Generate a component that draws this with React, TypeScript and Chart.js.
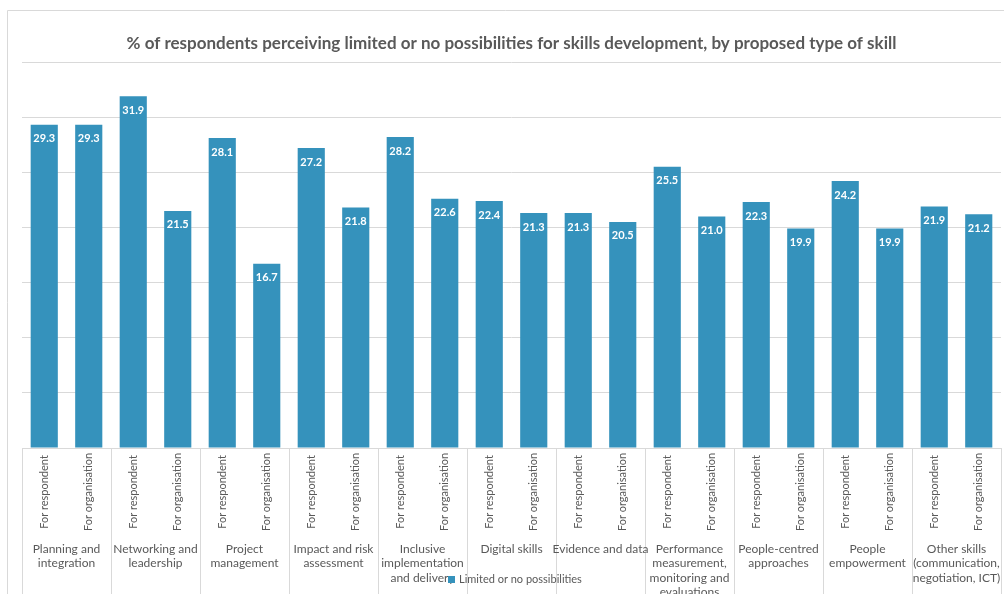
import React, { useEffect, useRef } from "react";
import { Chart, registerables } from "chart.js";

Chart.register(...registerables);

const titleText =
  "% of respondents perceiving limited or no possibilities for skills development, by proposed type of skill";

const groupLabels: string[][] = [
  ["Planning and", "integration"],
  ["Networking and", "leadership"],
  ["Project", "management"],
  ["Impact and risk", "assessment"],
  ["Inclusive", "implementation", "and delivery"],
  ["Digital skills"],
  ["Evidence and data"],
  ["Performance", "measurement,", "monitoring and", "evaluations"],
  ["People-centred", "approaches"],
  ["People", "empowerment"],
  ["Other skills", "(communication,", "negotiation, ICT)"],
];

const subLabels = ["For respondent", "For organisation"];

const values = [
  29.3, 29.3, 31.9, 21.5, 28.1, 16.7, 27.2, 21.8, 28.2, 22.6, 22.4, 21.3, 21.3,
  20.5, 25.5, 21.0, 22.3, 19.9, 24.2, 19.9, 21.9, 21.2,
];

const seriesName = "Limited or no possibilities";

const BAR = "#3592bc";
const GRID = "#d9d9d9";
const TEXT = "#595959";
const FONT = "Lato, 'Open Sans', sans-serif";

const categories: string[] = [];
groupLabels.forEach((g) => {
  subLabels.forEach((s) => categories.push(g.join(" ") + " - " + s));
});

const decorPlugin = {
  id: "decor",
  afterDatasetsDraw(chart: any) {
    const { ctx } = chart;
    const meta = chart.getDatasetMeta(0);
    ctx.save();
    ctx.fillStyle = "#ffffff";
    ctx.font = `bold 11px ${FONT}`;
    ctx.textAlign = "center";
    ctx.textBaseline = "middle";
    meta.data.forEach((bar: any, i: number) => {
      ctx.fillText(values[i].toFixed(1), bar.x, bar.y + 14);
    });
    ctx.restore();
  },
  afterDraw(chart: any) {
    const { ctx, chartArea } = chart;
    const x = chart.scales.x;
    const H = chart.height;
    const W = chart.width;
    ctx.save();
    // outer frame
    ctx.strokeStyle = GRID;
    ctx.lineWidth = 1;
    ctx.beginPath();
    ctx.moveTo(7.5, H);
    ctx.lineTo(7.5, 10.5);
    ctx.lineTo(W, 10.5);
    ctx.stroke();

    // group separators
    const bottom = chartArea.bottom;
    const bounds: number[] = [];
    for (let g = 0; g <= groupLabels.length; g++) {
      let bx: number;
      if (g === 0) bx = chartArea.left;
      else if (g === groupLabels.length) bx = chartArea.right;
      else bx = (x.getPixelForValue(2 * g - 1) + x.getPixelForValue(2 * g)) / 2;
      bounds.push(bx);
      ctx.beginPath();
      ctx.moveTo(Math.round(bx) + 0.5, bottom);
      ctx.lineTo(Math.round(bx) + 0.5, H);
      ctx.stroke();
    }

    // rotated sub labels
    ctx.fillStyle = TEXT;
    ctx.font = `11px ${FONT}`;
    ctx.textAlign = "center";
    ctx.textBaseline = "middle";
    categories.forEach((_, i) => {
      const px = x.getPixelForValue(i);
      ctx.save();
      ctx.translate(px, 492);
      ctx.rotate(-Math.PI / 2);
      ctx.fillText(subLabels[i % 2], 0, 0);
      ctx.restore();
    });

    // group labels
    ctx.font = `12px ${FONT}`;
    groupLabels.forEach((lines, g) => {
      const cx = (bounds[g] + bounds[g + 1]) / 2;
      lines.forEach((ln, k) => {
        ctx.fillText(ln, cx, 549 + k * 14.5);
      });
    });

    // legend
    ctx.font = `11px ${FONT}`;
    ctx.textAlign = "left";
    ctx.fillText(seriesName, 459, 579);
    ctx.fillStyle = BAR;
    ctx.fillRect(448, 576, 7, 7);
    ctx.restore();
  },
};

export default function App() {
  const ref = useRef<HTMLCanvasElement>(null);
  useEffect(() => {
    if (!ref.current) return;
    const chart = new Chart(ref.current, {
      type: "bar",
      data: {
        labels: categories,
        datasets: [
          {
            label: seriesName,
            data: values,
            backgroundColor: BAR,
            barPercentage: 1,
            categoryPercentage: 0.61,
          },
        ],
      },
      options: {
        responsive: false,
        animation: false,
        devicePixelRatio: 1,
        layout: { padding: { left: 22, right: 3, top: 10, bottom: 146 } },
        plugins: {
          legend: { display: false },
          tooltip: { enabled: false },
          title: {
            display: true,
            text: titleText,
            color: TEXT,
            font: { family: FONT, size: 17, weight: "bold", lineHeight: 1.2 },
            padding: { top: 23.8, bottom: 7.8 },
          },
        },
        scales: {
          x: {
            display: true,
            ticks: { display: false },
            grid: { display: false, drawTicks: false },
            border: { display: true, color: GRID },
          },
          y: {
            min: 0,
            max: 35,
            ticks: { display: false, stepSize: 5 },
            grid: { color: GRID, drawTicks: false },
            border: { display: false },
          },
        },
      },
      plugins: [decorPlugin],
    });
    return () => chart.destroy();
  }, []);
  return (
    <div style={{ position: "fixed", left: 0, top: 0, width: 1004, height: 594, background: "#fff" }}>
      <canvas ref={ref} width={1004} height={594} style={{ width: 1004, height: 594, display: "block" }} />
    </div>
  );
}
